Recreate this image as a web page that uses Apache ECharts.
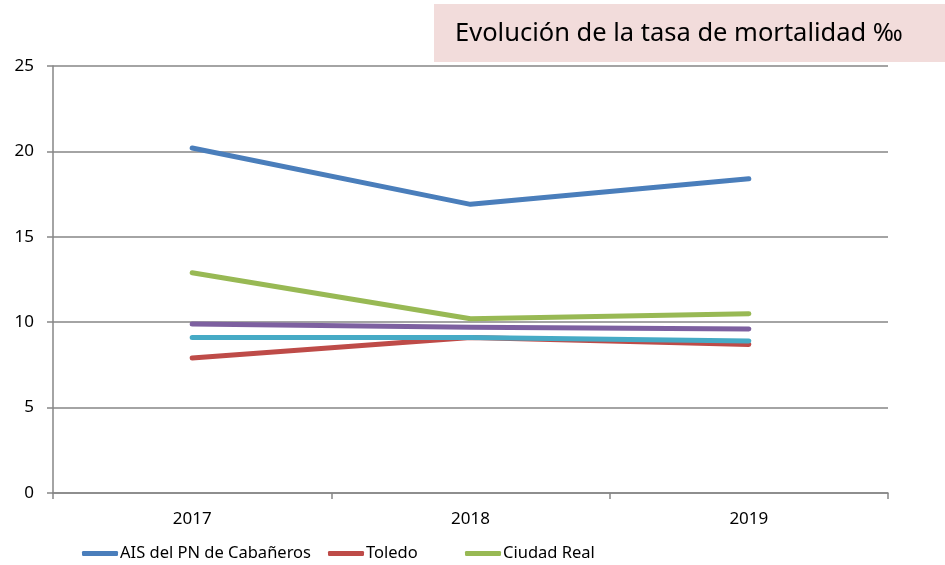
<!DOCTYPE html>
<html>
<head>
<meta charset="utf-8">
<script src="https://cdn.jsdelivr.net/npm/echarts@6/dist/echarts.min.js"></script>
<style>
  html, body { margin: 0; padding: 0; background: #fff; }
  #container { width: 945px; height: 565px; }
</style>
</head>
<body>
<div id="container"></div>
<script>
var years = ['2017', '2018', '2019']
var cabaneros = [20.2, 16.9, 18.4]
var toledo = [7.9, 9.1, 8.7]
var ciudadReal = [12.9, 10.2, 10.5]
var castillaLaMancha = [9.9, 9.7, 9.6]
var espana = [9.1, 9.1, 8.9]
var yTicks = [0, 5, 10, 15, 20, 25]

var font = '"Noto Sans", sans-serif'

function serie(name, data, color){
    return {
        name: name,
        type: 'line',
        data: data,
        symbol: 'none',
        color: color,
        lineStyle: { width: 5, color: color, cap: 'round', join: 'round' }
    }
}

function legendAt(name, left){
    return {
        data: [name],
        left: left,
        top: 545,
        itemWidth: 36,
        itemHeight: 5,
        icon: 'roundRect',
        itemGap: 0,
        padding: 0,
        textStyle: { fontFamily: font, fontSize: 16.5, color: '#000', padding: [0, 0, 0, -3] }
    }
}

var dom = document.getElementById('container')
var myChart = echarts.init(dom)

var option = {
    animation: false,
    graphic: [{
        type: 'rect',
        shape: { x: 434, y: 4, width: 511, height: 58 },
        style: { fill: '#F2DCDB' }
    }, {
        type: 'text',
        x: 455, y: 34,
        style: {
            text: 'Evolución de la tasa de mortalidad ‰',
            fontFamily: font, fontSize: 25.5, fill: '#000',
            verticalAlign: 'middle'
        }
    }],
    grid: { left: 53, right: 57, top: 66, bottom: 72 },
    legend: [
        legendAt('AIS del PN de Cabañeros', 82),
        legendAt('Toledo', 328),
        legendAt('Ciudad Real', 465)
    ],
    xAxis: {
        type: 'category',
        data: years,
        boundaryGap: true,
        axisLine: { lineStyle: { color: '#868686', width: 1.5 } },
        axisTick: { show: true, length: 6, interval: 0, lineStyle: { color: '#868686', width: 1.5 } },
        axisLabel: { fontFamily: font, fontSize: 17, color: '#000', margin: 18 }
    },
    yAxis: {
        type: 'value',
        min: yTicks[0],
        max: yTicks[yTicks.length - 1],
        interval: 5,
        axisLine: { show: true, lineStyle: { color: '#868686', width: 1.5 } },
        axisTick: { show: true, length: 6, lineStyle: { color: '#868686', width: 1.5 } },
        axisLabel: { fontFamily: font, fontSize: 17, color: '#000', margin: 19 },
        splitLine: { lineStyle: { color: '#868686', width: 1.5 } }
    },
    series: [
        serie('AIS del PN de Cabañeros', cabaneros, '#4A7EBB'),
        serie('Toledo', toledo, '#BE4B48'),
        serie('Ciudad Real', ciudadReal, '#98B954'),
        serie('Castilla-La Mancha', castillaLaMancha, '#7D60A0'),
        serie('España', espana, '#46AAC5')
    ]
}

myChart.setOption(option, true)
</script>
</body>
</html>
